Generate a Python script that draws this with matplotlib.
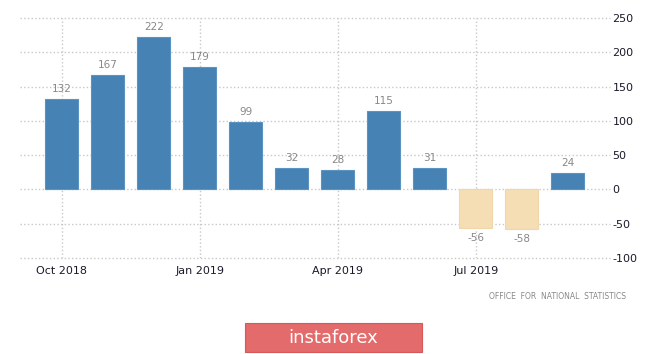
import matplotlib.pyplot as plt
from matplotlib.patches import Rectangle

plt.rcParams['axes.unicode_minus'] = False

months = ['Oct 2018', 'Nov 2018', 'Dec 2018', 'Jan 2019', 'Feb 2019', 'Mar 2019',
          'Apr 2019', 'May 2019', 'Jun 2019', 'Jul 2019', 'Aug 2019', 'Sep 2019']
values = [132, 167, 222, 179, 99, 32, 28, 115, 31, -56, -58, 24]
tick_idx = [0, 3, 6, 9]
y_ticks = [-100, -50, 0, 50, 100, 150, 200, 250]

fig = plt.figure(figsize=(6.65, 3.54), dpi=100)
ax = fig.add_axes([0.030, 0.271, 0.887, 0.678])

x = list(range(len(values)))
colors = ['#4682b4' if v >= 0 else '#f5deb3' for v in values]
edges = ['#5b93c2' if v >= 0 else '#f0d6aa' for v in values]
ax.bar(x, values, width=0.72, color=colors, edgecolor=edges, linewidth=0.8, zorder=3)

for xi, v in zip(x, values):
    if v >= 0:
        ax.text(xi, v + 7, str(v), ha='center', va='bottom', fontsize=7.5, color='#888888')
    else:
        ax.text(xi, v - 7, str(v), ha='center', va='top', fontsize=7.5, color='#888888')

ax.set_xlim(-0.91, 11.91)
ax.set_ylim(-100, 250)
ax.set_xticks(tick_idx)
ax.set_xticklabels([months[i] for i in tick_idx])
ax.set_yticks(y_ticks)
ax.yaxis.tick_right()
ax.tick_params(axis='both', length=0, labelsize=8, colors='#1a1a2a')
ax.tick_params(axis='x', pad=6)
ax.tick_params(axis='y', pad=2)
ax.grid(True, color='#c8c8c8', linestyle=':', linewidth=1.0, zorder=0)
for line in ax.get_ygridlines():
    line.set_clip_on(False)
for s in ax.spines.values():
    s.set_visible(False)

fig.text(0.942, 0.163, 'OFFICE  FOR  NATIONAL  STATISTICS', ha='right', va='center',
         fontsize=5.5, color='#888888')

# watermark
fig.patches.append(Rectangle((245 / 665, 2 / 354), 177 / 665, 29 / 354,
                             transform=fig.transFigure, facecolor='#e46b6b',
                             edgecolor='#d85858', linewidth=0.8))
fig.text(333 / 665, 16 / 354, 'instaforex', ha='center', va='center',
         fontsize=13, color='white')

plt.savefig('out.png', dpi=100)
